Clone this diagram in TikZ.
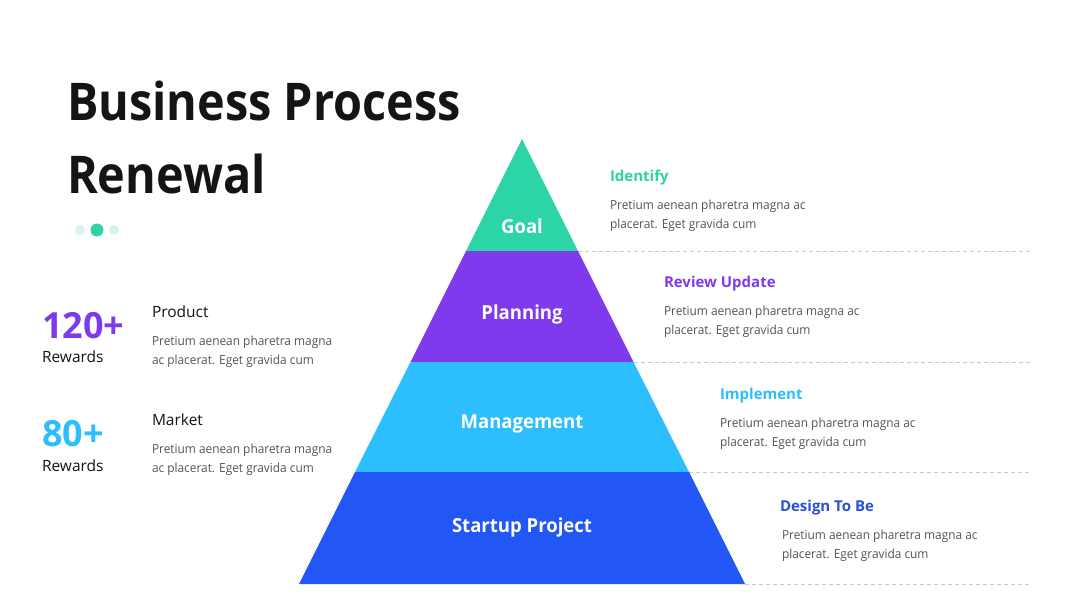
\documentclass[tikz,border=0pt]{standalone}
\usepackage{fontspec}
\setmainfont{Open Sans}
\newfontfamily\titlefont[FakeStretch=0.9]{Open Sans}
\newfontfamily\bodyfont[FakeStretch=0.95]{Open Sans}
\newfontfamily\lvlfont[FakeStretch=0.96]{Open Sans}
\definecolor{cgoal}{RGB}{45,212,166}
\definecolor{cplan}{RGB}{126,58,236}
\definecolor{cmgmt}{RGB}{44,190,253}
\definecolor{cstart}{RGB}{34,87,245}
\definecolor{cdesign}{RGB}{40,80,220}
\definecolor{cdot}{RGB}{215,244,236}
\definecolor{cbody}{RGB}{85,85,85}
\definecolor{cdash}{RGB}{200,200,200}
\definecolor{cink}{RGB}{20,20,20}
\tikzset{
  txt/.style={anchor=base west,inner sep=0pt,outer sep=0pt},
  title/.style={txt,font=\titlefont\fontsize{52}{52}\selectfont\bfseries,text=cink},
  body/.style={txt,font=\bodyfont\fontsize{12.5}{19}\selectfont,text=cbody,align=left},
  head/.style={txt,font=\fontsize{15}{16}\selectfont\bfseries},
  sub/.style={txt,font=\fontsize{15.5}{16}\selectfont,text=cink},
  big/.style={txt,font=\fontsize{36}{36}\selectfont\bfseries},
  lvl/.style={anchor=base,inner sep=0pt,font=\lvlfont\fontsize{19.3}{20}\selectfont\bfseries,text=white},
  guide/.style={draw=cdash,line width=0.9pt,dash pattern=on 4pt off 3pt},
}
\begin{document}
\begin{tikzpicture}[x=1pt,y=-1pt]
\useasboundingbox (0,0) rectangle (1080,608);
\fill[white] (0,0) rectangle (1080,608);
% title
\node[title] (t1) at (67,120) {Business Process};
\node[title] (t2) at (67,193) {Renewal};
% dots
\fill[cdot] (80,230) circle (5);
\fill[cgoal] (97,230) circle (6.5);
\fill[cdot] (114,230) circle (5);
% pyramid coordinates
\coordinate (apex) at (522,139);
\coordinate (l1) at (466,251); \coordinate (r1) at (578,251);
\coordinate (l2) at (410.5,362); \coordinate (r2) at (633.5,362);
\coordinate (l3) at (355,472); \coordinate (r3) at (689,472);
\coordinate (l4) at (299,584); \coordinate (r4) at (745,584);
\coordinate (e1) at (1030,251);
\coordinate (e2) at (1030,362);
\coordinate (e3) at (1030,472);
\coordinate (e4) at (1030,584);
% guides
\draw[guide] (r1) -- (e1);
\draw[guide] (r2) -- (e2);
\draw[guide] (r3) -- (e3);
\draw[guide] (r4) -- (e4);
% layers
\fill[cgoal] (apex) -- (r1) -- (l1) -- cycle;
\fill[cplan] (l1) -- (r1) -- (r2) -- (l2) -- cycle;
\fill[cmgmt] (l2) -- (r2) -- (r3) -- (l3) -- cycle;
\fill[cstart] (l3) -- (r3) -- (r4) -- (l4) -- cycle;
\node[lvl] (goal) at (522,233) {Goal};
\node[lvl] (plan) at (522,319) {Planning};
\node[lvl] (mgmt) at (522,428) {Management};
\node[lvl] (start) at (522,532) {Startup Project};
% right texts
\node[head,text=cgoal] (h1) at (610,181) {Identify};
\node[body] (b1a) at (610,209) {Pretium aenean pharetra magna ac};
\node[body] (b1b) at (610,228) {placerat. Eget gravida cum};
\node[head,text=cplan] (h2) at (664,287) {Review Update};
\node[body] (b2a) at (664,315) {Pretium aenean pharetra magna ac};
\node[body] (b2b) at (664,334) {placerat. Eget gravida cum};
\node[head,text=cmgmt] (h3) at (720,399) {Implement};
\node[body] (b3a) at (720,427) {Pretium aenean pharetra magna ac};
\node[body] (b3b) at (720,446) {placerat. Eget gravida cum};
\node[head,text=cdesign] (h4) at (780,511) {Design To Be};
\node[body] (b4a) at (782,539) {Pretium aenean pharetra magna ac};
\node[body] (b4b) at (782,558) {placerat. Eget gravida cum};
% left stats
\node[big,text=cplan] (n1) at (42,338) {120+};
\node[sub] (r1t) at (42,362) {Rewards};
\node[sub] (p1) at (152,317) {Product};
\node[body] (p1a) at (152,345) {Pretium aenean pharetra magna};
\node[body] (p1b) at (152,364) {ac placerat. Eget gravida cum};
\node[big,text=cmgmt] (n2) at (42,446) {80+};
\node[sub] (r2t) at (42,471) {Rewards};
\node[sub] (p2) at (152,425) {Market};
\node[body] (p2a) at (152,453) {Pretium aenean pharetra magna};
\node[body] (p2b) at (152,472) {ac placerat. Eget gravida cum};
\end{tikzpicture}
\end{document}
